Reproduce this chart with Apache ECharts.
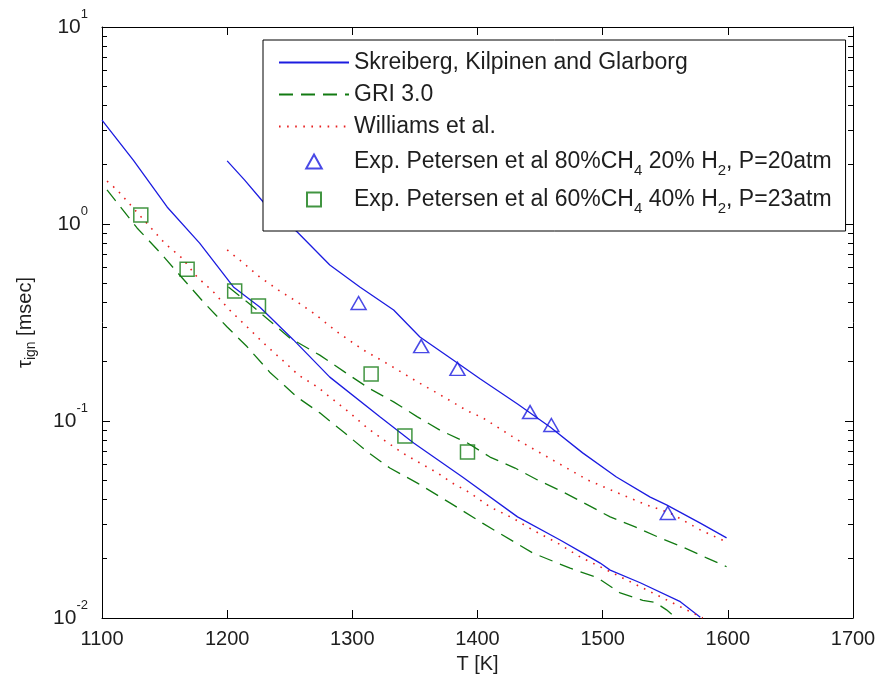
<!DOCTYPE html>
<html><head><meta charset="utf-8">
<script src="https://cdn.jsdelivr.net/npm/echarts@6/dist/echarts.min.js"></script>
<style>html,body{margin:0;padding:0;background:#fff}#c{width:879px;height:684px}</style>
</head><body><div id="c"></div>
<script>
// ---- data ----
const xTickValues = [1100, 1200, 1300, 1400, 1500, 1600, 1700];
const yTickExponents = [-2, -1, 0, 1];

const legendNames = ['Skreiberg, Kilpinen and Glarborg', 'GRI 3.0', 'Williams et al.', 'Exp. Petersen 80/20', 'Exp. Petersen 60/40'];

// left group (60% CH4 / 40% H2)
const tSolidA = [1100,1125,1152,1178,1205,1226,1253,1282,1322,1349,1388,1432,1466,1484,1498,1506,1530,1562,1578];
const tauSolidA = [3.37,2.11,1.22,0.80,0.479,0.379,0.258,0.167,0.105,0.0773,0.052,0.0326,0.0249,0.0214,0.019,0.0175,0.0151,0.0121,0.0101];
const tDashedA = [1104,1128,1146,1162,1181,1200,1216,1234,1256,1274,1294,1312,1330,1352,1378,1404,1444,1474,1496,1514,1532,1542,1551,1558];
const tauDashedA = [1.49,0.955,0.721,0.551,0.402,0.300,0.238,0.177,0.132,0.110,0.0869,0.0697,0.0577,0.0484,0.0384,0.0303,0.0214,0.0179,0.016,0.0134,0.0123,0.012,0.011,0.0101];
const tDottedA = [1104,1112,1137,1150,1164,1176,1189,1202,1216,1229,1244,1257,1272,1285,1298,1312,1325,1340,1354,1368,1380,1394,1410,1428,1444,1464,1482,1498,1538,1580];
const tauDottedA = [1.65,1.49,0.989,0.80,0.671,0.538,0.452,0.366,0.300,0.249,0.204,0.171,0.149,0.128,0.110,0.092,0.0802,0.0689,0.0612,0.0545,0.0484,0.0432,0.0366,0.0322,0.028,0.024,0.0204,0.0182,0.0136,0.010];

// right group (80% CH4 / 20% H2)
const tSolidB = [1200,1214,1229,1256,1282,1306,1333,1354,1384,1402,1432,1458,1484,1511,1538,1551,1578,1599];
const tauSolidB = [2.09,1.67,1.29,0.910,0.619,0.479,0.366,0.267,0.197,0.164,0.122,0.0933,0.0689,0.052,0.0411,0.0375,0.0303,0.0255];
const tDashedB = [1201,1221,1250,1274,1294,1313,1333,1352,1370,1392,1410,1430,1448,1468,1488,1506,1526,1544,1564,1583,1599];
const tauDashedB = [0.479,0.379,0.264,0.216,0.177,0.147,0.125,0.105,0.0899,0.0773,0.0656,0.0577,0.0502,0.0437,0.0375,0.0326,0.029,0.0258,0.0229,0.0202,0.0182];
const tDottedB = [1200,1213,1226,1241,1256,1269,1289,1309,1330,1352,1370,1392,1404,1432,1460,1488,1516,1535,1554,1578,1599];
const tauDottedB = [0.738,0.634,0.538,0.462,0.402,0.353,0.280,0.229,0.192,0.158,0.136,0.1125,0.104,0.0802,0.0634,0.0502,0.0421,0.0375,0.0341,0.028,0.0243];

// experiments
const tTri = [1305,1355,1384,1442,1459,1552];
const tauTri = [0.397,0.240,0.184,0.111,0.0955,0.0341];
const tSq = [1131,1168,1206,1225,1315,1342,1392];
const tauSq = [1.11,0.59,0.457,0.384,0.173,0.084,0.0697];

// ---- chart ----
const FONT = 'Liberation Sans, Arial, Helvetica, sans-serif';
const TXT = '#1e1e1e';
const pairs = (a, b) => a.map((t, i) => [t, b[i]]);
const legendText = {
  'Skreiberg, Kilpinen and Glarborg': 'Skreiberg, Kilpinen and Glarborg',
  'GRI 3.0': 'GRI 3.0',
  'Williams et al.': 'Williams et al.',
  'Exp. Petersen 80/20': 'Exp. Petersen et al 80%CH{sub|4} 20% H{sub|2}, P=20atm',
  'Exp. Petersen 60/40': 'Exp. Petersen et al 60%CH{sub|4} 40% H{sub|2}, P=23atm'
};
const BLUE = '#1c1ce0', GREEN = '#127a12', RED = '#e82020';
const solid = {color: BLUE, width: 1.3, type: 'solid'};
const dashed = {color: GREEN, width: 1.3, type: [14, 8]};
const dotted = {color: RED, width: 1.6, type: [1.6, 6.5]};
function lineSeries(name, t, v, ls) {
  return {name, type: 'line', data: pairs(t, v), showSymbol: false, symbol: 'none',
    lineStyle: ls, itemStyle: {color: ls.color}, clip: true, z: 2};
}
const baseAxisX = {type: 'value', min: 1100, max: 1700, interval: 100,
  axisLine: {show: true, onZero: false, lineStyle: {color: '#000', width: 1}},
  axisTick: {show: true, inside: true, length: 8, lineStyle: {color: '#000'}},
  splitLine: {show: false}};
const baseAxisY = {type: 'log', logBase: 10, min: 0.01, max: 10,
  axisLine: {show: true, onZero: false, lineStyle: {color: '#000', width: 1}},
  axisTick: {show: true, inside: true, length: 8, lineStyle: {color: '#000'}},
  minorTick: {show: true, splitNumber: 9, length: 5, lineStyle: {color: '#000', width: 1}},
  splitLine: {show: false}, minorSplitLine: {show: false}};

const lineLegend = {itemStyle: {opacity: 0}};
const chart = echarts.init(document.getElementById('c'), null, {renderer: 'canvas'});
chart.setOption({
  animation: false,
  backgroundColor: '#fff',
  textStyle: {fontFamily: FONT, color: TXT},
  grid: {left: 102, top: 27, right: 26, bottom: 66, containLabel: false},
  xAxis: [
    Object.assign({}, baseAxisX, {position: 'bottom',
      axisLabel: {show: true, fontSize: 20, color: TXT, fontFamily: FONT, margin: 11,
        formatter: v => xTickValues.indexOf(v) >= 0 ? String(v) : ''},
      name: 'T [K]', nameLocation: 'middle', nameGap: 36,
      nameTextStyle: {fontSize: 20, color: TXT, fontFamily: FONT}}),
    Object.assign({}, baseAxisX, {position: 'top', axisLabel: {show: false}})
  ],
  yAxis: [
    Object.assign({}, baseAxisY, {position: 'left',
      axisLabel: {show: true, margin: 14, fontFamily: FONT, color: TXT,
        formatter: v => {
          const e = Math.round(Math.log10(v));
          return yTickExponents.indexOf(e) >= 0 ? '{b|10}{s|' + e + '}' : '';
        },
        rich: {b: {fontSize: 21, color: TXT, fontFamily: FONT},
               s: {fontSize: 13, color: TXT, fontFamily: FONT, padding: [0, 0, 26, 0]}}},
      name: '{t|τ}{s|ign} [msec]', nameLocation: 'middle', nameRotate: 90, nameGap: 64,
      nameTextStyle: {fontSize: 20, color: TXT, fontFamily: FONT,
        rich: {t: {fontSize: 20, color: TXT, fontFamily: FONT},
               s: {fontSize: 14, color: TXT, fontFamily: FONT, padding: [12, 0, 0, 0]}}}}),
    Object.assign({}, baseAxisY, {position: 'right', axisLabel: {show: false}})
  ],
  legend: {
    orient: 'vertical', left: 263, top: 40,
    padding: [9, 14, 15, 15], itemGap: 5, itemWidth: 70, itemHeight: 14, itemTextGap: 6,
    borderColor: '#000', borderWidth: 1, backgroundColor: '#fff',
    data: [
      Object.assign({name: legendNames[0]}, lineLegend),
      Object.assign({name: legendNames[1]}, lineLegend),
      Object.assign({name: legendNames[2]}, lineLegend),
      {name: legendNames[3], icon: 'path://M0,-1L1,0.8L-1,0.8Z'},
      {name: legendNames[4], icon: 'path://M-1,-1L1,-1L1,1L-1,1Z'}
    ],
    formatter: n => legendText[n],
    textStyle: {fontSize: 23, lineHeight: 27, color: TXT, fontFamily: FONT,
      rich: {sub: {fontSize: 15, lineHeight: 17, color: TXT, fontFamily: FONT, padding: [18, 0, 0, 0]}}},
    selectedMode: false
  },
  series: [
    lineSeries(legendNames[0], tSolidA, tauSolidA, solid),
    lineSeries(legendNames[0], tSolidB, tauSolidB, solid),
    lineSeries(legendNames[1], tDashedA, tauDashedA, dashed),
    lineSeries(legendNames[1], tDashedB, tauDashedB, dashed),
    lineSeries(legendNames[2], tDottedA, tauDottedA, dotted),
    lineSeries(legendNames[2], tDottedB, tauDottedB, dotted),
    {name: legendNames[3], type: 'scatter', data: pairs(tTri, tauTri), symbol: 'triangle', symbolSize: [15, 13],
      itemStyle: {color: 'rgba(0,0,0,0)', borderColor: BLUE, borderWidth: 1.5}, z: 3},
    {name: legendNames[4], type: 'scatter', data: pairs(tSq, tauSq), symbol: 'rect', symbolSize: [14, 14],
      itemStyle: {color: 'rgba(0,0,0,0)', borderColor: GREEN, borderWidth: 1.5}, z: 3}
  ]
});
</script>
</body></html>
